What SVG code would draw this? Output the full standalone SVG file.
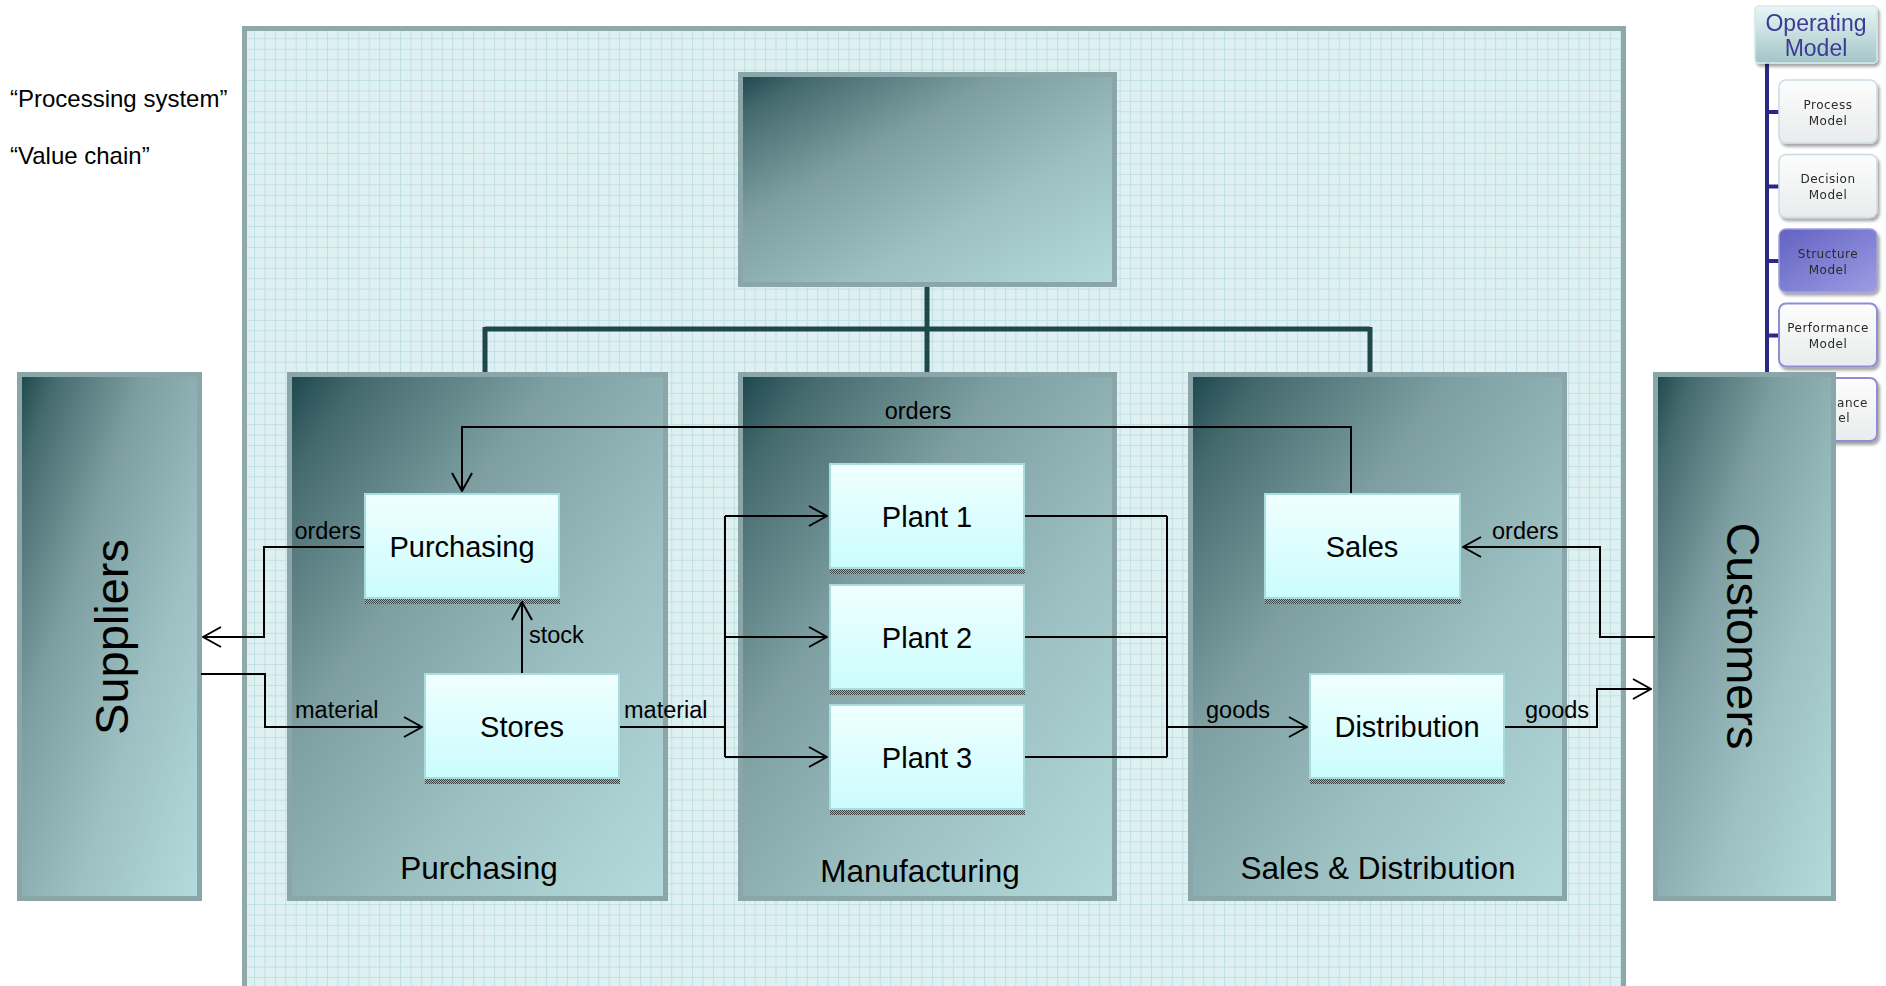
<svg xmlns="http://www.w3.org/2000/svg" width="1886" height="986" viewBox="0 0 1886 986">
  <defs>
    <style>
      text { font-family: "Liberation Sans", Arial, sans-serif; fill: #000; }
      .panel { fill: url(#grid); stroke: #8fa9ab; stroke-width: 5; }
      .group { fill: url(#gGroup); stroke: #8ba6a8; stroke-width: 5; }
      .unit { fill: url(#gUnit); stroke: #a8dcde; stroke-width: 2; }
      .hatch { fill: url(#dots); }
      .tree { fill: none; stroke: #1d474b; stroke-width: 5; }
      .flow { fill: none; stroke: #000; stroke-width: 2; }
      .arrow { marker-end: url(#arr); }
      .unitText { font-size: 29px; text-anchor: middle; }
      .flowText { font-size: 23.5px; }
      .groupText { font-size: 31.5px; text-anchor: middle; }
      .sideText { font-size: 47px; text-anchor: middle; }
      .note { font-size: 24px; }
      .omTitle { font-size: 23px; text-anchor: middle; fill: #3b3b96; }
      .omText { font-family: "DejaVu Sans", Verdana, sans-serif; font-size: 12px; letter-spacing: 0.5px; text-anchor: middle; fill: #2a2a2a; }
      .omTextEnd { font-family: "DejaVu Sans", Verdana, sans-serif; font-size: 12px; letter-spacing: 0.5px; text-anchor: end; fill: #2a2a2a; }
      .omBox { fill: url(#gOmChild); stroke: #cddbe4; stroke-width: 1.5; }
      .omBoxBlue { fill: url(#gOmChild); stroke: #8e8ed6; stroke-width: 2; }
    </style>

    <!-- fine graph-paper background of the main panel -->
    <pattern id="grid" patternUnits="userSpaceOnUse" x="254" y="38.3" width="10.43" height="10.43">
      <rect width="10.43" height="10.43" fill="#dff0f2"/>
      <path d="M0.5,0 V10.43 M0,0.5 H10.43" stroke="#bfe0e3" stroke-width="1"/>
    </pattern>

    <!-- dotted shadow strip under the unit boxes -->
    <pattern id="dots" patternUnits="userSpaceOnUse" width="2" height="2">
      <rect width="2" height="2" fill="#a8aeae"/>
      <rect width="1" height="1" fill="#3e4444"/>
      <rect x="1" y="1" width="1" height="1" fill="#3e4444"/>
    </pattern>

    <linearGradient id="gGroup" x1="0" y1="0" x2="1" y2="1">
      <stop offset="0" stop-color="#1c474c"/>
      <stop offset="0.1" stop-color="#456a6e"/>
      <stop offset="0.35" stop-color="#7d9fa1"/>
      <stop offset="0.65" stop-color="#9dc0c2"/>
      <stop offset="1" stop-color="#b4dcdd"/>
    </linearGradient>

    <linearGradient id="gUnit" x1="0" y1="0" x2="0" y2="1">
      <stop offset="0" stop-color="#f0ffff"/>
      <stop offset="1" stop-color="#cbfcfd"/>
    </linearGradient>

    <linearGradient id="gOmTitle" x1="0" y1="0" x2="0" y2="1">
      <stop offset="0" stop-color="#eaf6f6"/>
      <stop offset="1" stop-color="#a2c5c7"/>
    </linearGradient>
    <linearGradient id="gOmChild" x1="0" y1="0" x2="0" y2="1">
      <stop offset="0" stop-color="#fdfdfd"/>
      <stop offset="1" stop-color="#e9ebec"/>
    </linearGradient>
    <linearGradient id="gOmSel" x1="0" y1="0" x2="1" y2="1">
      <stop offset="0" stop-color="#6262c2"/>
      <stop offset="1" stop-color="#9c9ce4"/>
    </linearGradient>

    <filter id="soft" x="-10%" y="-10%" width="120%" height="120%">
      <feGaussianBlur stdDeviation="0.5"/>
    </filter>
    <filter id="shadow" x="-10%" y="-10%" width="130%" height="130%">
      <feGaussianBlur in="SourceAlpha" stdDeviation="1.5"/>
      <feOffset dx="2" dy="3" result="b"/>
      <feFlood flood-color="#000" flood-opacity="0.35"/>
      <feComposite in2="b" operator="in"/>
      <feMerge><feMergeNode/><feMergeNode in="SourceGraphic"/></feMerge>
    </filter>

    <marker id="arr" viewBox="0 0 20 22" refX="19" refY="11" markerWidth="20" markerHeight="22" markerUnits="userSpaceOnUse" orient="auto">
      <path d="M1,1 L19,11 L1,21" fill="none" stroke="#000" stroke-width="2"/>
    </marker>
  </defs>

  <rect width="1886" height="986" fill="#ffffff"/>

  <!-- side notes -->
  <text class="note" x="10" y="107">“Processing system”</text>
  <text class="note" x="10" y="164">“Value chain”</text>

  <!-- operating model navigator (top right) -->
  <g id="operating-model" filter="url(#soft)">
    <path d="M1767,62 V420 M1767,112 H1779 M1767,186.5 H1779 M1767,261 H1779 M1767,335.5 H1779 M1767,410 H1779" fill="none" stroke="#2c2c84" stroke-width="4"/>
    <g filter="url(#shadow)">
      <rect x="1755" y="6" width="122" height="57" rx="4" fill="url(#gOmTitle)" stroke="#d6e8ea" stroke-width="1.5"/>
      <rect class="omBox" x="1779" y="80" width="98" height="63" rx="7"/>
      <rect class="omBox" x="1779" y="154.5" width="98" height="63" rx="7"/>
      <rect x="1779" y="229" width="98" height="63" rx="7" fill="url(#gOmSel)" stroke="#a0a0e0" stroke-width="1.5"/>
      <rect class="omBoxBlue" x="1779" y="303.5" width="98" height="63" rx="7"/>
      <rect class="omBoxBlue" x="1779" y="378" width="98" height="63" rx="7"/>
    </g>
    <text class="omTitle" x="1816" y="31">Operating</text>
    <text class="omTitle" x="1816" y="56">Model</text>
    <text class="omText" x="1828" y="108.5">Process</text>
    <text class="omText" x="1828" y="124.5">Model</text>
    <text class="omText" x="1828" y="183">Decision</text>
    <text class="omText" x="1828" y="199">Model</text>
    <text class="omText" x="1828" y="257.5">Structure</text>
    <text class="omText" x="1828" y="273.5">Model</text>
    <text class="omText" x="1828" y="332">Performance</text>
    <text class="omText" x="1828" y="348">Model</text>
    <text class="omTextEnd" x="1868" y="407">ance</text>
    <text class="omTextEnd" x="1850" y="422">el</text>
  </g>

  <!-- enterprise panel -->
  <g id="enterprise">
    <rect class="panel" x="244.5" y="28.5" width="1379" height="990"/>
  </g>

  <!-- top-level organisation box -->
  <g id="organisation">
    <rect class="group" x="740.5" y="74.5" width="374" height="210"/>
  </g>

  <!-- organisation tree -->
  <g id="tree">
    <path class="tree" d="M927,287 V329 M485,329 H1370 M485,327 V373 M927,327 V373 M1370,327 V373"/>
  </g>

  <!-- external parties -->
  <g id="suppliers">
    <rect class="group" x="19.5" y="374.5" width="180" height="524"/>
    <text class="sideText" transform="translate(128,637) rotate(-90)">Suppliers</text>
  </g>

  <g id="customers">
    <rect class="group" x="1655.5" y="374.5" width="178" height="524"/>
    <text class="sideText" transform="translate(1727,636) rotate(90)">Customers</text>
  </g>

  <!-- functional areas -->
  <g id="area-purchasing">
    <rect class="group" x="289.5" y="374.5" width="376" height="524"/>
    <text class="groupText" x="479" y="879">Purchasing</text>
  </g>
  <g id="area-manufacturing">
    <rect class="group" x="740.5" y="374.5" width="374" height="524"/>
    <text class="groupText" x="920" y="882">Manufacturing</text>
  </g>
  <g id="area-sales-distribution">
    <rect class="group" x="1190.5" y="374.5" width="374" height="524"/>
    <text class="groupText" x="1378" y="879">Sales &amp; Distribution</text>
  </g>

  <!-- units -->
  <g id="purchasing">
    <rect class="unit" x="365" y="494" width="194" height="104"/>
    <rect class="hatch" x="365" y="599" width="195" height="5"/>
    <text class="unitText" x="462" y="557">Purchasing</text>
  </g>
  <g id="stores">
    <rect class="unit" x="425" y="674" width="194" height="104"/>
    <rect class="hatch" x="425" y="779" width="195" height="5"/>
    <text class="unitText" x="522" y="737">Stores</text>
  </g>
  <g id="plant-1">
    <rect class="unit" x="830" y="464" width="194" height="104"/>
    <rect class="hatch" x="830" y="569" width="195" height="5"/>
    <text class="unitText" x="927" y="526.5">Plant 1</text>
  </g>
  <g id="plant-2">
    <rect class="unit" x="830" y="585" width="194" height="104"/>
    <rect class="hatch" x="830" y="690" width="195" height="5"/>
    <text class="unitText" x="927" y="647.5">Plant 2</text>
  </g>
  <g id="plant-3">
    <rect class="unit" x="830" y="705" width="194" height="104"/>
    <rect class="hatch" x="830" y="810" width="195" height="5"/>
    <text class="unitText" x="927" y="767.5">Plant 3</text>
  </g>
  <g id="sales">
    <rect class="unit" x="1265" y="494" width="195" height="104"/>
    <rect class="hatch" x="1265" y="599" width="196" height="5"/>
    <text class="unitText" x="1362" y="557">Sales</text>
  </g>
  <g id="distribution">
    <rect class="unit" x="1310" y="674" width="194" height="104"/>
    <rect class="hatch" x="1310" y="779" width="195" height="5"/>
    <text class="unitText" x="1407" y="737">Distribution</text>
  </g>

  <!-- flows -->
  <g id="flows">
    <path class="flow arrow" d="M1351,493 V427 H462 V491"/>
    <path class="flow arrow" d="M364,547 H264 V637 H203"/>
    <path class="flow arrow" d="M201,674 H265 V727 H422"/>
    <path class="flow arrow" d="M522,673 V602"/>
    <path class="flow" d="M620,727 H725 M725,516 V757"/>
    <path class="flow arrow" d="M725,516 H827"/>
    <path class="flow arrow" d="M725,637 H827"/>
    <path class="flow arrow" d="M725,757 H827"/>
    <path class="flow" d="M1025,516 H1167 M1025,637 H1167 M1025,757 H1167 M1167,516 V757"/>
    <path class="flow arrow" d="M1167,727 H1307"/>
    <path class="flow arrow" d="M1655,637 H1600 V547 H1463"/>
    <path class="flow arrow" d="M1505,727 H1597 V689 H1651"/>

    <text class="flowText" x="918" y="419" text-anchor="middle">orders</text>
    <text class="flowText" x="361" y="539" text-anchor="end">orders</text>
    <text class="flowText" x="295" y="718">material</text>
    <text class="flowText" x="529" y="643">stock</text>
    <text class="flowText" x="624" y="718">material</text>
    <text class="flowText" x="1206" y="718">goods</text>
    <text class="flowText" x="1492" y="539">orders</text>
    <text class="flowText" x="1525" y="718">goods</text>
  </g>
</svg>
